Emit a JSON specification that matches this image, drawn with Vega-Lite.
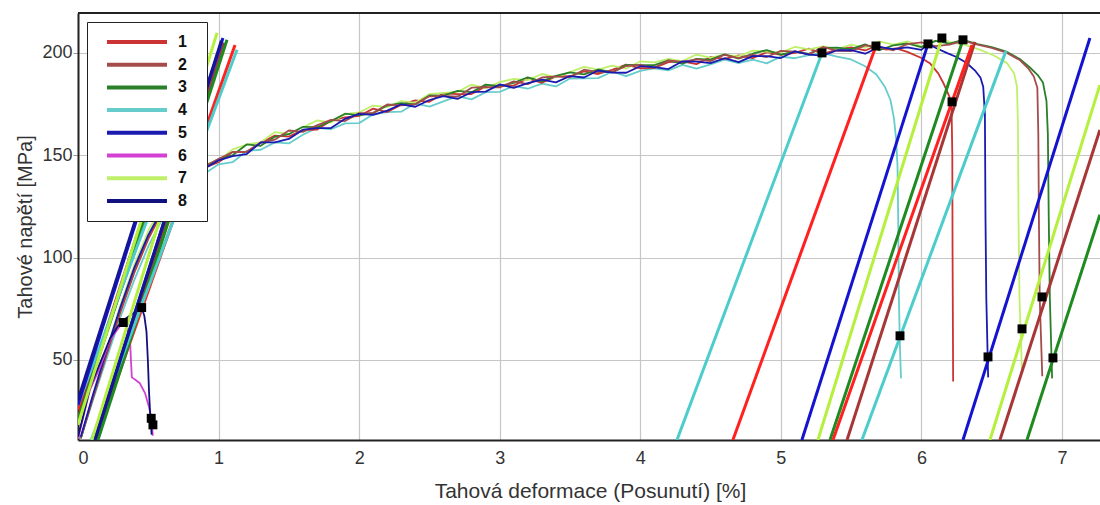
{
"$schema": "https://vega.github.io/schema/vega-lite/v6.json",
"width": 1024, "height": 427,
"autosize": {"type": "none"},
"padding": {"left": 78, "top": 13, "right": 0, "bottom": 65},
"background": "white",
"config": {"font": "Liberation Sans", "view": {"stroke": null}},
"datasets": {
"curves": [
{"s":"4","x":0.02,"y":11.5},{"s":"4","x":0.1,"y":29},{"s":"4","x":0.2,"y":50},{"s":"4","x":0.3,"y":70.5},{"s":"4","x":0.4,"y":89},{"s":"4","x":0.5,"y":105.5},{"s":"4","x":0.6,"y":119},{"s":"4","x":0.7,"y":129},{"s":"4","x":0.8,"y":136},{"s":"4","x":0.9,"y":141},
{"s":"4","x":1.0,"y":145.6},{"s":"4","x":1.1,"y":146.6},{"s":"4","x":1.2,"y":152.1},{"s":"4","x":1.3,"y":152.7},{"s":"4","x":1.4,"y":156.3},{"s":"4","x":1.5,"y":155.8},{"s":"4","x":1.6,"y":160.0},{"s":"4","x":1.7,"y":163.4},{"s":"4","x":1.8,"y":162.7},{"s":"4","x":1.9,"y":165.6},
{"s":"4","x":2.0,"y":165.7},{"s":"4","x":2.1,"y":170.0},{"s":"4","x":2.2,"y":171.1},{"s":"4","x":2.3,"y":171.3},{"s":"4","x":2.4,"y":175.4},{"s":"4","x":2.5,"y":173.8},{"s":"4","x":2.6,"y":176.3},{"s":"4","x":2.7,"y":178.9},{"s":"4","x":2.8,"y":177.3},{"s":"4","x":2.9,"y":180.8},
{"s":"4","x":3.0,"y":181.0},{"s":"4","x":3.1,"y":183.8},{"s":"4","x":3.2,"y":182.5},{"s":"4","x":3.3,"y":185.0},{"s":"4","x":3.4,"y":183.6},{"s":"4","x":3.5,"y":187.5},{"s":"4","x":3.6,"y":187.6},{"s":"4","x":3.7,"y":187.7},{"s":"4","x":3.8,"y":190.8},{"s":"4","x":3.9,"y":188.7},
{"s":"4","x":4.0,"y":191.2},{"s":"4","x":4.1,"y":192.5},{"s":"4","x":4.2,"y":191.5},{"s":"4","x":4.3,"y":194.2},{"s":"4","x":4.4,"y":192.3},{"s":"4","x":4.5,"y":194.4},{"s":"4","x":4.6,"y":196.7},{"s":"4","x":4.7,"y":195.0},{"s":"4","x":4.8,"y":196.7},{"s":"4","x":4.9,"y":194.9},
{"s":"4","x":5.0,"y":198.2},{"s":"4","x":5.1,"y":197.4},{"s":"4","x":5.2,"y":198.9},{"s":"4","x":5.293,"y":200.0},{"s":"4","x":5.4,"y":198.2},{"s":"4","x":5.5,"y":196.8},{"s":"4","x":5.6,"y":193.5},{"s":"4","x":5.68,"y":189.5},{"s":"4","x":5.74,"y":183.5},{"s":"4","x":5.78,"y":177},{"s":"4","x":5.805,"y":168},{"s":"4","x":5.82,"y":158},{"s":"4","x":5.83,"y":145},{"s":"4","x":5.835,"y":120},{"s":"4","x":5.84,"y":80},{"s":"4","x":5.848,"y":55},{"s":"4","x":5.855,"y":41},

{"s":"1","x":0.02,"y":12},{"s":"1","x":0.1,"y":30},{"s":"1","x":0.2,"y":52},{"s":"1","x":0.3,"y":73},{"s":"1","x":0.4,"y":92.5},{"s":"1","x":0.5,"y":109},{"s":"1","x":0.6,"y":122.5},{"s":"1","x":0.7,"y":132.5},{"s":"1","x":0.8,"y":139.5},{"s":"1","x":0.9,"y":144},
{"s":"1","x":1.0,"y":146.6},{"s":"1","x":1.1,"y":151.6},{"s":"1","x":1.2,"y":151.7},{"s":"1","x":1.3,"y":156.0},{"s":"1","x":1.4,"y":159.6},{"s":"1","x":1.5,"y":159.1},{"s":"1","x":1.6,"y":162.3},{"s":"1","x":1.7,"y":162.5},{"s":"1","x":1.8,"y":167.0},{"s":"1","x":1.9,"y":168.5},
{"s":"1","x":2.0,"y":169.2},{"s":"1","x":2.1,"y":172.8},{"s":"1","x":2.2,"y":171.1},{"s":"1","x":2.3,"y":174.7},{"s":"1","x":2.4,"y":176.8},{"s":"1","x":2.5,"y":176.1},{"s":"1","x":2.6,"y":180.3},{"s":"1","x":2.7,"y":179.9},{"s":"1","x":2.8,"y":179.9},{"s":"1","x":2.9,"y":183.6},
{"s":"1","x":3.0,"y":184.1},{"s":"1","x":3.1,"y":184.0},{"s":"1","x":3.2,"y":187.6},{"s":"1","x":3.3,"y":185.4},{"s":"1","x":3.4,"y":188.5},{"s":"1","x":3.5,"y":188.6},{"s":"1","x":3.6,"y":191.0},{"s":"1","x":3.7,"y":189.7},{"s":"1","x":3.8,"y":191.7},{"s":"1","x":3.9,"y":194.3},
{"s":"1","x":4.0,"y":192.5},{"s":"1","x":4.1,"y":192.7},{"s":"1","x":4.2,"y":195.5},{"s":"1","x":4.3,"y":195.9},{"s":"1","x":4.4,"y":194.5},{"s":"1","x":4.5,"y":198.0},{"s":"1","x":4.6,"y":197.1},{"s":"1","x":4.7,"y":198.8},{"s":"1","x":4.8,"y":197.4},{"s":"1","x":4.9,"y":200.4},
{"s":"1","x":5.0,"y":199.0},{"s":"1","x":5.1,"y":200.0},{"s":"1","x":5.2,"y":202.1},{"s":"1","x":5.3,"y":199.5},{"s":"1","x":5.4,"y":201.6},{"s":"1","x":5.5,"y":202.7},{"s":"1","x":5.6,"y":201.2},{"s":"1","x":5.677,"y":203.4},{"s":"1","x":5.75,"y":201.6},{"s":"1","x":5.82,"y":202.2},
{"s":"1","x":5.9,"y":200.5},{"s":"1","x":6.0,"y":197.5},{"s":"1","x":6.06,"y":195.0},{"s":"1","x":6.12,"y":190.0},{"s":"1","x":6.16,"y":184.8},{"s":"1","x":6.2,"y":178.5},{"s":"1","x":6.215,"y":172},{"s":"1","x":6.22,"y":150},{"s":"1","x":6.222,"y":100},{"s":"1","x":6.226,"y":39.5},

{"s":"7","x":0.02,"y":12},{"s":"7","x":0.1,"y":31},{"s":"7","x":0.2,"y":54.5},{"s":"7","x":0.3,"y":76.5},{"s":"7","x":0.4,"y":96.5},{"s":"7","x":0.5,"y":113},{"s":"7","x":0.6,"y":126},{"s":"7","x":0.7,"y":135.5},{"s":"7","x":0.8,"y":141.5},{"s":"7","x":0.9,"y":145.5},
{"s":"7","x":1.0,"y":147.3},{"s":"7","x":1.1,"y":152.9},{"s":"7","x":1.2,"y":155.2},{"s":"7","x":1.3,"y":156.4},{"s":"7","x":1.4,"y":161.3},{"s":"7","x":1.5,"y":160.5},{"s":"7","x":1.6,"y":163.7},{"s":"7","x":1.7,"y":167.0},{"s":"7","x":1.8,"y":166.0},{"s":"7","x":1.9,"y":170.1},
{"s":"7","x":2.0,"y":170.9},{"s":"7","x":2.1,"y":174.3},{"s":"7","x":2.2,"y":173.5},{"s":"7","x":2.3,"y":176.5},{"s":"7","x":2.4,"y":175.6},{"s":"7","x":2.5,"y":179.9},{"s":"7","x":2.6,"y":180.5},{"s":"7","x":2.7,"y":181.0},{"s":"7","x":2.8,"y":184.5},{"s":"7","x":2.9,"y":182.8},
{"s":"7","x":3.0,"y":185.7},{"s":"7","x":3.1,"y":187.3},{"s":"7","x":3.2,"y":186.7},{"s":"7","x":3.3,"y":189.7},{"s":"7","x":3.4,"y":188.1},{"s":"7","x":3.5,"y":190.6},{"s":"7","x":3.6,"y":193.2},{"s":"7","x":3.7,"y":191.8},{"s":"7","x":3.8,"y":193.8},{"s":"7","x":3.9,"y":192.3},
{"s":"7","x":4.0,"y":195.9},{"s":"7","x":4.1,"y":195.4},{"s":"7","x":4.2,"y":197.1},{"s":"7","x":4.3,"y":196.0},{"s":"7","x":4.4,"y":199.2},{"s":"7","x":4.5,"y":197.7},{"s":"7","x":4.6,"y":199.2},{"s":"7","x":4.7,"y":198.3},{"s":"7","x":4.8,"y":201.1},{"s":"7","x":4.9,"y":200.6},
{"s":"7","x":5.0,"y":200.3},{"s":"7","x":5.1,"y":202.9},{"s":"7","x":5.2,"y":201.7},{"s":"7","x":5.3,"y":203.2},{"s":"7","x":5.4,"y":201.8},{"s":"7","x":5.5,"y":204.1},{"s":"7","x":5.6,"y":202.5},{"s":"7","x":5.7,"y":205.6},{"s":"7","x":5.8,"y":204.0},{"s":"7","x":5.9,"y":205.6},
{"s":"7","x":6.0,"y":203.2},{"s":"7","x":6.1,"y":205.6},{"s":"7","x":6.146,"y":207.3},{"s":"7","x":6.2,"y":205.3},{"s":"7","x":6.3,"y":204.2},{"s":"7","x":6.42,"y":201.5},{"s":"7","x":6.52,"y":198.6},{"s":"7","x":6.61,"y":195.0},{"s":"7","x":6.66,"y":190.0},{"s":"7","x":6.68,"y":183.5},{"s":"7","x":6.687,"y":165},{"s":"7","x":6.691,"y":120},{"s":"7","x":6.698,"y":80},{"s":"7","x":6.716,"y":43.5},

{"s":"3","x":0.02,"y":11.8},{"s":"3","x":0.1,"y":30.5},{"s":"3","x":0.2,"y":53},{"s":"3","x":0.3,"y":74.5},{"s":"3","x":0.4,"y":94},{"s":"3","x":0.5,"y":110.5},{"s":"3","x":0.6,"y":124},{"s":"3","x":0.7,"y":134},{"s":"3","x":0.8,"y":140.5},{"s":"3","x":0.9,"y":144.5},
{"s":"3","x":1.0,"y":148.2},{"s":"3","x":1.1,"y":150.0},{"s":"3","x":1.2,"y":155.3},{"s":"3","x":1.3,"y":154.6},{"s":"3","x":1.4,"y":159.0},{"s":"3","x":1.5,"y":160.3},{"s":"3","x":1.6,"y":163.9},{"s":"3","x":1.7,"y":163.7},{"s":"3","x":1.8,"y":166.7},{"s":"3","x":1.9,"y":170.3},
{"s":"3","x":2.0,"y":169.5},{"s":"3","x":2.1,"y":170.6},{"s":"3","x":2.2,"y":174.3},{"s":"3","x":2.3,"y":175.5},{"s":"3","x":2.4,"y":174.9},{"s":"3","x":2.5,"y":179.2},{"s":"3","x":2.6,"y":179.1},{"s":"3","x":2.7,"y":181.5},{"s":"3","x":2.8,"y":180.8},{"s":"3","x":2.9,"y":184.5},
{"s":"3","x":3.0,"y":183.8},{"s":"3","x":3.1,"y":185.4},{"s":"3","x":3.2,"y":188.1},{"s":"3","x":3.3,"y":186.1},{"s":"3","x":3.4,"y":188.8},{"s":"3","x":3.5,"y":190.5},{"s":"3","x":3.6,"y":189.5},{"s":"3","x":3.7,"y":191.9},{"s":"3","x":3.8,"y":190.5},{"s":"3","x":3.9,"y":194.2},
{"s":"3","x":4.0,"y":194.0},{"s":"3","x":4.1,"y":194.0},{"s":"3","x":4.2,"y":196.4},{"s":"3","x":4.3,"y":194.8},{"s":"3","x":4.4,"y":197.1},{"s":"3","x":4.5,"y":196.7},{"s":"3","x":4.6,"y":199.3},{"s":"3","x":4.7,"y":197.2},{"s":"3","x":4.8,"y":199.6},{"s":"3","x":4.9,"y":201.4},
{"s":"3","x":5.0,"y":199.2},{"s":"3","x":5.1,"y":200.8},{"s":"3","x":5.2,"y":199.5},{"s":"3","x":5.3,"y":202.5},{"s":"3","x":5.4,"y":202.6},{"s":"3","x":5.5,"y":201.9},{"s":"3","x":5.6,"y":204.2},{"s":"3","x":5.7,"y":201.3},{"s":"3","x":5.8,"y":203.7},{"s":"3","x":5.9,"y":204.6},
{"s":"3","x":6.0,"y":202.8},{"s":"3","x":6.1,"y":205.9},{"s":"3","x":6.2,"y":204.5},{"s":"3","x":6.296,"y":206.4},{"s":"3","x":6.4,"y":204.3},{"s":"3","x":6.5,"y":202.8},{"s":"3","x":6.6,"y":200.8},{"s":"3","x":6.7,"y":197.0},{"s":"3","x":6.77,"y":193.0},{"s":"3","x":6.83,"y":189.0},{"s":"3","x":6.865,"y":185.5},{"s":"3","x":6.89,"y":176.5},{"s":"3","x":6.9,"y":160},{"s":"3","x":6.906,"y":120},{"s":"3","x":6.914,"y":80},{"s":"3","x":6.93,"y":41},

{"s":"2","x":0.02,"y":11.8},{"s":"2","x":0.1,"y":30.2},{"s":"2","x":0.2,"y":52.5},{"s":"2","x":0.3,"y":74},{"s":"2","x":0.4,"y":93.5},{"s":"2","x":0.5,"y":110},{"s":"2","x":0.6,"y":123.5},{"s":"2","x":0.7,"y":133.5},{"s":"2","x":0.8,"y":140},{"s":"2","x":0.9,"y":144.5},
{"s":"2","x":1.0,"y":148.1},{"s":"2","x":1.1,"y":151.6},{"s":"2","x":1.2,"y":151.7},{"s":"2","x":1.3,"y":156.2},{"s":"2","x":1.4,"y":157.6},{"s":"2","x":1.5,"y":162.1},{"s":"2","x":1.6,"y":161.4},{"s":"2","x":1.7,"y":164.6},{"s":"2","x":1.8,"y":167.3},{"s":"2","x":1.9,"y":166.7},
{"s":"2","x":2.0,"y":170.6},{"s":"2","x":2.1,"y":170.7},{"s":"2","x":2.2,"y":174.8},{"s":"2","x":2.3,"y":174.4},{"s":"2","x":2.4,"y":175.0},{"s":"2","x":2.5,"y":178.8},{"s":"2","x":2.6,"y":179.0},{"s":"2","x":2.7,"y":178.6},{"s":"2","x":2.8,"y":183.0},{"s":"2","x":2.9,"y":183.3},
{"s":"2","x":3.0,"y":183.2},{"s":"2","x":3.1,"y":186.1},{"s":"2","x":3.2,"y":184.7},{"s":"2","x":3.3,"y":188.0},{"s":"2","x":3.4,"y":188.5},{"s":"2","x":3.5,"y":188.1},{"s":"2","x":3.6,"y":191.8},{"s":"2","x":3.7,"y":190.6},{"s":"2","x":3.8,"y":190.6},{"s":"2","x":3.9,"y":193.6},
{"s":"2","x":4.0,"y":194.1},{"s":"2","x":4.1,"y":192.7},{"s":"2","x":4.2,"y":196.3},{"s":"2","x":4.3,"y":195.6},{"s":"2","x":4.4,"y":196.9},{"s":"2","x":4.5,"y":196.0},{"s":"2","x":4.6,"y":199.1},{"s":"2","x":4.7,"y":197.5},{"s":"2","x":4.8,"y":199.0},{"s":"2","x":4.9,"y":198.0},
{"s":"2","x":5.0,"y":201.0},{"s":"2","x":5.1,"y":200.6},{"s":"2","x":5.2,"y":199.3},{"s":"2","x":5.3,"y":202.9},{"s":"2","x":5.4,"y":201.0},{"s":"2","x":5.5,"y":200.9},{"s":"2","x":5.6,"y":203.7},{"s":"2","x":5.7,"y":202.9},{"s":"2","x":5.8,"y":201.3},{"s":"2","x":5.9,"y":204.3},
{"s":"2","x":6.0,"y":205.2},{"s":"2","x":6.1,"y":203.3},{"s":"2","x":6.2,"y":204.1},{"s":"2","x":6.3,"y":205.9},{"s":"2","x":6.4,"y":204.0},{"s":"2","x":6.5,"y":202.5},{"s":"2","x":6.6,"y":200.3},{"s":"2","x":6.7,"y":196.5},{"s":"2","x":6.76,"y":192.5},{"s":"2","x":6.8,"y":188.5},{"s":"2","x":6.825,"y":183.0},{"s":"2","x":6.832,"y":160},{"s":"2","x":6.836,"y":120},{"s":"2","x":6.842,"y":80},{"s":"2","x":6.86,"y":42},

{"s":"5","x":0.02,"y":12.5},{"s":"5","x":0.1,"y":31.5},{"s":"5","x":0.2,"y":54},{"s":"5","x":0.3,"y":75.5},{"s":"5","x":0.4,"y":95},{"s":"5","x":0.5,"y":111},{"s":"5","x":0.6,"y":123.5},{"s":"5","x":0.7,"y":133},{"s":"5","x":0.8,"y":139.5},{"s":"5","x":0.9,"y":143.5},
{"s":"5","x":1.0,"y":147.5},{"s":"5","x":1.1,"y":149.6},{"s":"5","x":1.2,"y":150.6},{"s":"5","x":1.3,"y":156.3},{"s":"5","x":1.4,"y":156.3},{"s":"5","x":1.5,"y":158.0},{"s":"5","x":1.6,"y":162.5},{"s":"5","x":1.7,"y":163.3},{"s":"5","x":1.8,"y":163.3},{"s":"5","x":1.9,"y":167.8},
{"s":"5","x":2.0,"y":170.2},{"s":"5","x":2.1,"y":169.7},{"s":"5","x":2.2,"y":171.8},{"s":"5","x":2.3,"y":174.9},{"s":"5","x":2.4,"y":173.7},{"s":"5","x":2.5,"y":177.0},{"s":"5","x":2.6,"y":178.9},{"s":"5","x":2.7,"y":177.5},{"s":"5","x":2.8,"y":180.8},{"s":"5","x":2.9,"y":181.1},
{"s":"5","x":3.0,"y":184.6},{"s":"5","x":3.1,"y":182.9},{"s":"5","x":3.2,"y":185.2},{"s":"5","x":3.3,"y":187.0},{"s":"5","x":3.4,"y":185.6},{"s":"5","x":3.5,"y":188.7},{"s":"5","x":3.6,"y":188.0},{"s":"5","x":3.7,"y":191.4},{"s":"5","x":3.8,"y":190.4},{"s":"5","x":3.9,"y":190.3},
{"s":"5","x":4.0,"y":193.5},{"s":"5","x":4.1,"y":193.1},{"s":"5","x":4.2,"y":192.1},{"s":"5","x":4.3,"y":195.9},{"s":"5","x":4.4,"y":195.7},{"s":"5","x":4.5,"y":195.0},{"s":"5","x":4.6,"y":197.4},{"s":"5","x":4.7,"y":195.5},{"s":"5","x":4.8,"y":198.4},{"s":"5","x":4.9,"y":198.4},
{"s":"5","x":5.0,"y":197.5},{"s":"5","x":5.1,"y":200.8},{"s":"5","x":5.2,"y":199.2},{"s":"5","x":5.3,"y":198.7},{"s":"5","x":5.4,"y":201.3},{"s":"5","x":5.5,"y":201.4},{"s":"5","x":5.6,"y":199.6},{"s":"5","x":5.7,"y":202.9},{"s":"5","x":5.8,"y":201.8},{"s":"5","x":5.9,"y":202.7},
{"s":"5","x":6.0,"y":201.5},{"s":"5","x":6.047,"y":204.4},{"s":"5","x":6.1,"y":202.5},{"s":"5","x":6.18,"y":200.0},{"s":"5","x":6.25,"y":198.0},{"s":"5","x":6.32,"y":195.2},{"s":"5","x":6.38,"y":191.5},{"s":"5","x":6.42,"y":188.0},{"s":"5","x":6.44,"y":183.5},{"s":"5","x":6.452,"y":170},{"s":"5","x":6.456,"y":120},{"s":"5","x":6.462,"y":80},{"s":"5","x":6.475,"y":41.5},

{"s":"6","x":0.0,"y":11.5},{"s":"6","x":0.038,"y":22.3},{"s":"6","x":0.085,"y":35.4},{"s":"6","x":0.157,"y":46.5},{"s":"6","x":0.228,"y":59.8},{"s":"6","x":0.287,"y":65.5},{"s":"6","x":0.322,"y":68.3},{"s":"6","x":0.345,"y":66.5},{"s":"6","x":0.362,"y":62.5},{"s":"6","x":0.372,"y":57},{"s":"6","x":0.378,"y":48},{"s":"6","x":0.383,"y":41.5},{"s":"6","x":0.41,"y":40.2},{"s":"6","x":0.44,"y":38.6},{"s":"6","x":0.477,"y":33.8},{"s":"6","x":0.505,"y":27},{"s":"6","x":0.52,"y":22.3},{"s":"6","x":0.528,"y":16.5},{"s":"6","x":0.532,"y":13},

{"s":"8","x":0.0,"y":12.5},{"s":"8","x":0.04,"y":23.5},{"s":"8","x":0.085,"y":36.5},{"s":"8","x":0.157,"y":48.5},{"s":"8","x":0.228,"y":60.5},{"s":"8","x":0.287,"y":66.8},{"s":"8","x":0.33,"y":69.8},{"s":"8","x":0.38,"y":72.2},{"s":"8","x":0.42,"y":74.2},{"s":"8","x":0.453,"y":75.6},{"s":"8","x":0.472,"y":71.5},{"s":"8","x":0.487,"y":64},{"s":"8","x":0.497,"y":50},{"s":"8","x":0.505,"y":35},{"s":"8","x":0.513,"y":24},{"s":"8","x":0.52,"y":17.5},{"s":"8","x":0.524,"y":13.5}
],
"lines": [
{"s":"1","g":"a1","x":0,"y":25.6},{"s":"1","g":"a1","x":0.882,"y":195},
{"s":"2","g":"a2","x":0,"y":21.7},{"s":"2","g":"a2","x":0.814,"y":195},
{"s":"3","g":"a3","x":0,"y":20.7},{"s":"3","g":"a3","x":0.834,"y":195},
{"s":"4","g":"a4","x":0,"y":28.0},{"s":"4","g":"a4","x":0.908,"y":195},
{"s":"5","g":"a5","x":0,"y":28.0},{"s":"5","g":"a5","x":0.770,"y":195},
{"s":"7","g":"a7","x":0,"y":18.3},{"s":"7","g":"a7","x":0.796,"y":195},
{"s":"8","g":"a8","x":0,"y":30.5},{"s":"8","g":"a8","x":0.765,"y":195},
{"s":"1","g":"b1","x":0.125,"y":10.9},{"s":"1","g":"b1","x":1.117,"y":203.9},
{"s":"2","g":"b2","x":0.13,"y":10.9},{"s":"2","g":"b2","x":1.04,"y":205},
{"s":"3","g":"b3","x":0.142,"y":10.9},{"s":"3","g":"b3","x":1.06,"y":206.4},
{"s":"4","g":"b4","x":0.095,"y":10.9},{"s":"4","g":"b4","x":1.131,"y":201.5},
{"s":"5","g":"b5","x":0.114,"y":10.9},{"s":"5","g":"b5","x":1.031,"y":207.3},
{"s":"7","g":"b7","x":0.100,"y":10.9},{"s":"7","g":"b7","x":0.989,"y":209.8},
{"s":"8","g":"b8","x":0.121,"y":10.9},{"s":"8","g":"b8","x":1.02,"y":206},
{"s":"4","g":"c4","x":4.261,"y":10.9},{"s":"4","g":"c4","x":5.293,"y":200.0},
{"s":"1","g":"c1","x":4.659,"y":10.9},{"s":"1","g":"c1","x":5.677,"y":203.4},
{"s":"5","g":"c5","x":5.150,"y":10.9},{"s":"5","g":"c5","x":6.047,"y":204.4},
{"s":"7","g":"c7","x":5.264,"y":10.9},{"s":"7","g":"c7","x":6.146,"y":207.3},
{"s":"3","g":"c3","x":5.350,"y":10.9},{"s":"3","g":"c3","x":6.296,"y":206.4},
{"s":"2","g":"c2","x":5.471,"y":10.9},{"s":"2","g":"c2","x":6.381,"y":205.4},
{"s":"1","g":"d1","x":5.371,"y":10.9},{"s":"1","g":"d1","x":6.36,"y":203.9},
{"s":"4","g":"d4","x":5.577,"y":10.9},{"s":"4","g":"d4","x":6.602,"y":201.0},
{"s":"5","g":"d5","x":6.296,"y":10.9},{"s":"5","g":"d5","x":7.199,"y":207.3},
{"s":"7","g":"d7","x":6.488,"y":10.9},{"s":"7","g":"d7","x":7.27,"y":184.4},
{"s":"2","g":"d2","x":6.559,"y":10.9},{"s":"2","g":"d2","x":7.27,"y":162.4},
{"s":"3","g":"d3","x":6.751,"y":10.9},{"s":"3","g":"d3","x":7.27,"y":120.9}
],
"pts": [
{"s":"6","x":0.322,"y":68.3},{"s":"8","x":0.453,"y":75.6},{"s":"8","x":0.521,"y":21.5},{"s":"6","x":0.533,"y":18.3},
{"s":"4","x":5.293,"y":200.0},{"s":"1","x":5.677,"y":203.4},{"s":"5","x":6.047,"y":204.4},{"s":"7","x":6.146,"y":207.3},{"s":"3","x":6.296,"y":206.4},
{"s":"1","x":6.218,"y":176.1},{"s":"4","x":5.848,"y":61.8},{"s":"5","x":6.474,"y":51.5},{"s":"7","x":6.716,"y":65.2},{"s":"2","x":6.858,"y":80.8},{"s":"3","x":6.936,"y":51.0}
]
},
"layer": [
{
"data": {"name": "curves"},
"mark": {"type": "line", "strokeWidth": 1.8, "clip": true, "strokeJoin": "round"},
"encoding": {
"x": {"field": "x", "type": "quantitative",
"scale": {"domain": [0, 7.285], "nice": false, "zero": false},
"axis": {"values": [0,1,2,3,4,5,6,7], "format": "d", "grid": true, "gridColor": "#c6c6c6", "gridWidth": 1.2, "ticks": false, "tickSize": 0, "labelFontSize": 18, "labelColor": "#333", "labelPadding": 9, "labelFlush": true, "domainColor": "#222", "domainWidth": 2, "title": "Tahová deformace (Posunutí) [%]", "titleFontSize": 21, "titleFontWeight": "normal", "titleColor": "#333", "titlePadding": 13}},
"y": {"field": "y", "type": "quantitative",
"scale": {"domain": [10.9, 219.5], "nice": false, "zero": false},
"axis": {"values": [50,100,150,200], "grid": true, "gridColor": "#c6c6c6", "gridWidth": 1.2, "tickSize": 5, "tickColor": "#999", "labelFontSize": 18, "labelColor": "#333", "labelPadding": 1, "domainColor": "#222", "domainWidth": 2, "title": "Tahové napětí [MPa]", "titleFontSize": 20, "titleFontWeight": "normal", "titleColor": "#333", "titlePadding": 6}},
"color": {"field": "s", "type": "nominal",
"scale": {"domain": ["1","2","3","4","5","6","7","8"], "range": ["#cc3333","#a44c4c","#2a7f2a","#66cccc","#1a1ab0","#d43fd4","#bff06a","#10107e"]},
"legend": {"title": null, "orient": "top-left", "offset": 9, "fillColor": "white", "strokeColor": "#222", "padding": 12, "symbolType": "M-8,0H52M72,0", "symbolSize": 4, "symbolStrokeWidth": 4, "symbolOffset": 8, "labelOffset": 55, "labelFontSize": 16, "labelFontWeight": "bold", "labelColor": "#111", "rowPadding": 6.7}}
}
},
{
"data": {"name": "lines"},
"mark": {"type": "line", "strokeWidth": 3, "clip": true},
"encoding": {
"x": {"field": "x", "type": "quantitative"},
"y": {"field": "y", "type": "quantitative"},
"detail": {"field": "g", "type": "nominal"},
"color": {"field": "s", "type": "nominal",
"scale": {"domain": ["1","2","3","4","5","6","7","8"], "range": ["#ff2020","#a83636","#1f8a1f","#4dcccc","#1414d0","#e040e0","#b4f03c","#141496"]},
"legend": null}
}
},
{
"data": {"name": "pts"},
"mark": {"type": "point", "shape": "square", "filled": true, "color": "black", "opacity": 1, "size": 80, "clip": true},
"encoding": {
"x": {"field": "x", "type": "quantitative"},
"y": {"field": "y", "type": "quantitative"}
}
},
{
"data": {"values": [{}]},
"mark": {"type": "rule", "color": "#222", "strokeWidth": 2},
"encoding": {"y": {"datum": 219.5}}
}
],
"resolve": {"scale": {"color": "independent"}}
}
